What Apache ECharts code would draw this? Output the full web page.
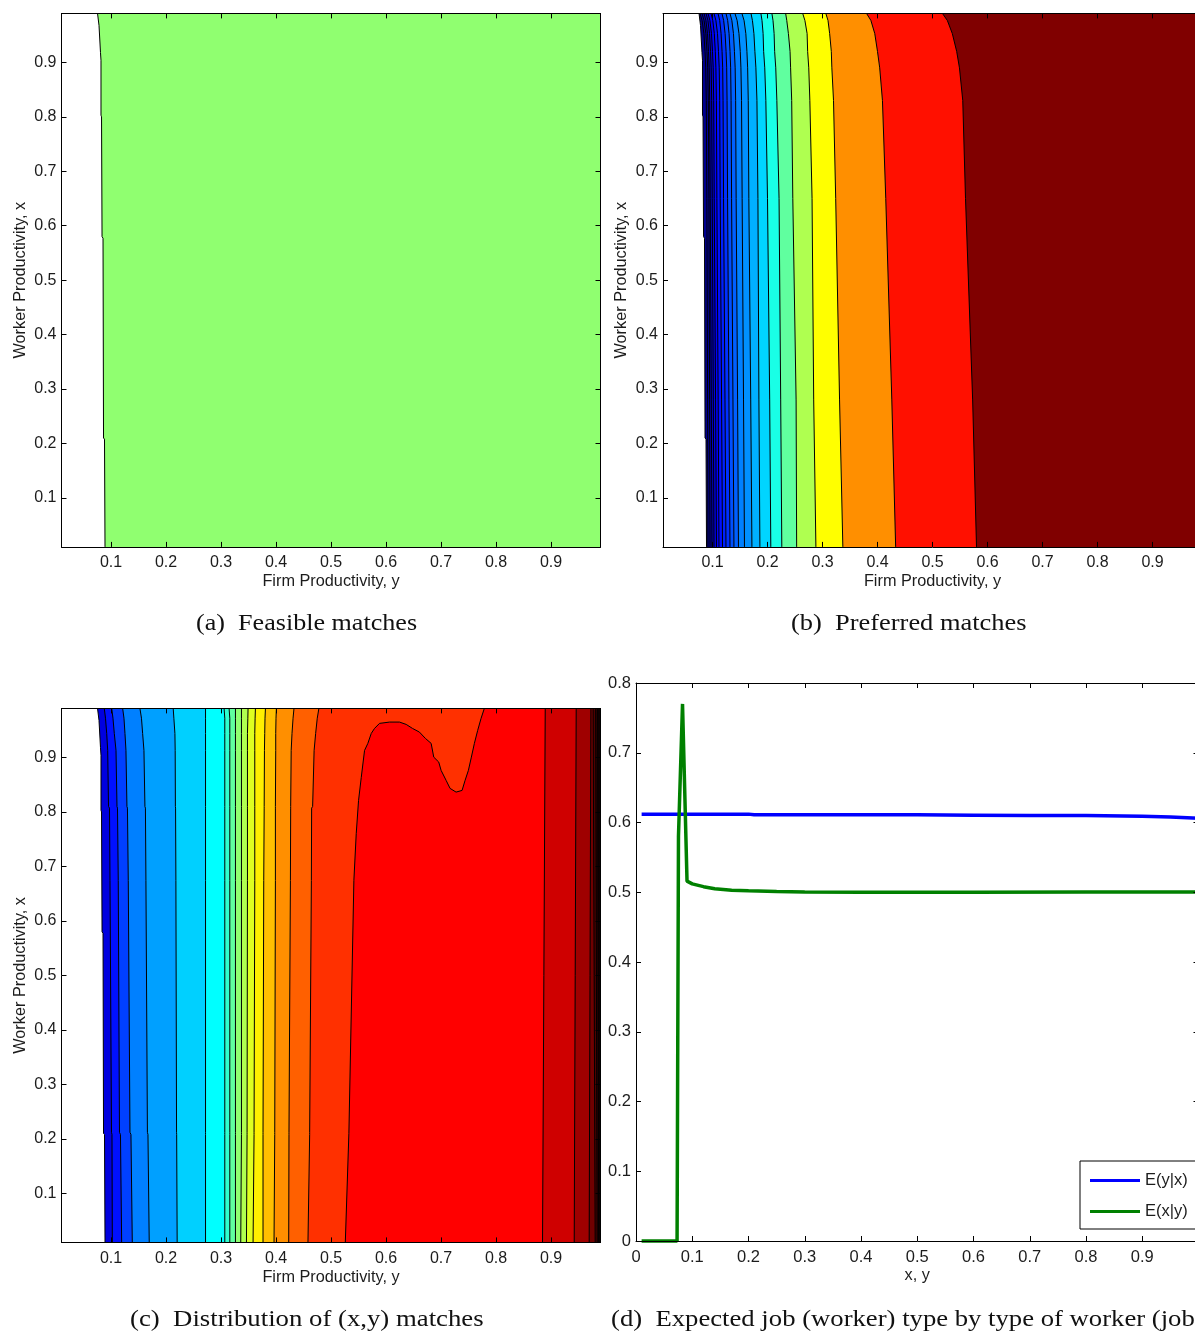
<!DOCTYPE html>
<html><head><meta charset="utf-8">
<style>html,body{margin:0;padding:0;background:#fff;overflow:hidden;width:1195px;height:1331px}#c{width:1260px;height:1331px}</style>
<script src="https://cdn.jsdelivr.net/npm/echarts@6/dist/echarts.min.js"></script>
</head><body><div id="c"></div>
<script>
// ---- tick labels ----
const TICKS_UNIT = [0.1,0.2,0.3,0.4,0.5,0.6,0.7,0.8,0.9];
const TICKS_D_X = [0,0.1,0.2,0.3,0.4,0.5,0.6,0.7,0.8,0.9,1];
const LABELS_D_X = [0,0.1,0.2,0.3,0.4,0.5,0.6,0.7,0.8,0.9];
const TICKS_D_Y = [0,0.1,0.2,0.3,0.4,0.5,0.6,0.7,0.8];

// ---- feasible-set boundary (shared by panels a, b, c) ----
const FEASIBLE_Y = [.99,.968,.918,.904,.803,.80,.58,.577,.21,.208,.01];
const FEASIBLE_X = [.0755,.0782,.0809,.0818,.0818,.0828,.0837,.0855,.0864,.0882,.0891];

// ---- panel b contours: x position of each level at the y knots ----
const B_Y = [.99,.977,.953,.92,.89,.83,.65,.28,.01];
const B_LEVELS = [
 [.0773,.0811,.0844,.0864,.0877,.0887,.0898,.0911,.0918],
 [.0809,.0847,.088,.09,.0913,.0924,.0935,.0947,.0955],
 [.0846,.088,.0909,.0927,.094,.0949,.0958,.0978,.0991],
 [.0882,.0917,.0946,.0964,.0976,.0985,.0995,.1015,.1027],
 [.0918,.0953,.0982,.1,.1013,.1022,.1031,.1056,.1073],
 [.0973,.1005,.1033,.1051,.1062,.1071,.108,.1103,.1118],
 [.1027,.1062,.1091,.1109,.1122,.1131,.114,.1165,.1182],
 [.11,.1131,.1156,.1174,.1185,.1192,.1201,.1227,.1245],
 [.1172,.1203,.1229,.1247,.1258,.1265,.1274,.1299,.1318],
 [.1245,.1276,.1301,.1319,.133,.1338,.1347,.1372,.139],
 [.1318,.1352,.1381,.1399,.1412,.1421,.143,.1456,.1472],
 [.1408,.1448,.1481,.1505,.1517,.1528,.1539,.1564,.1581],
 [.1535,.1574,.1606,.1626,.1639,.165,.1661,.1695,.1717],
 [.170,.1726,.1753,.1771,.1789,.1808,.1826,.1844,.1862],
 [.188,.190,.192,.193,.195,.197,.200,.204,.206],
 [.208,.210,.212,.213,.215,.217,.221,.224,.226],
 [.233,.235,.238,.241,.242,.244,.246,.252,.253],
 [.264,.268,.272,.273,.275,.277,.281,.284,.288],
 [.306,.310,.313,.316,.317,.320,.324,.331,.337],
 [.380,.388,.395,.400,.404,.409,.415,.426,.433],
 [.518,.527,.536,.544,.549,.555,.560,.573,.580]
];
const B_COLORS = ['#00008f','#00009f','#0000af','#0000c8','#0000df','#0000ff','#0010ff','#0020ff','#0030ff','#0050ff','#0060ff','#0080ff','#0090ff','#00b0ff','#00d5ff','#19ffe6','#60ff9f','#afff50','#ffff00','#ff8f00','#ff1000','#800000'];

// ---- panel c contours ----
const C_Y = [.99,.972,.944,.913,.81,.807,.674,.212,.208,.01];
const C_LEFT_LEVELS = [
 [.0878,.09,.0922,.094,.0955,.0973,.0982,.1009,.1018,.1024],
 [.1013,.1036,.106,.1091,.1109,.1118,.1132,.1154,.1172,.1194],
 [.1212,.1236,.1254,.1272,.129,.1299,.1314,.1345,.1363,.1387],
 [.1526,.1554,.1575,.1599,.1617,.1626,.1635,.1662,.1672,.1695],
 [.2131,.2143,.2162,.2167,.2171,.2174,.218,.2192,.2194,.2203],
 [.2719,.2719,.2719,.2719,.2719,.2719,.2719,.2719,.2719,.2719],
 [.3056,.3069,.3069,.3069,.3069,.3069,.3069,.3069,.3069,.3069],
 [.3147,.316,.316,.316,.316,.316,.316,.316,.316,.316],
 [.3263,.3263,.3263,.3263,.3263,.3263,.3263,.3263,.3263,.3263],
 [.3372,.3372,.3372,.3372,.3372,.3372,.3372,.3372,.3372,.3359],
 [.3492,.3488,.3481,.3481,.3481,.3481,.3481,.3474,.3474,.3463],
 [.3626,.362,.3614,.3614,.3614,.3614,.3614,.3601,.3601,.3583],
 [.3808,.38,.3795,.379,.3785,.3785,.3777,.3764,.3764,.3764],
 [.4007,.4,.3995,.3995,.3989,.3989,.3989,.3977,.3977,.3964],
 [.4327,.431,.4291,.4276,.4267,.4267,.4262,.4236,.4236,.4231],
 [.478,.475,.4721,.4693,.4666,.4648,.4643,.4612,.4612,.4581]
];
const C_RIDGE_X = [.7788,.7728,.7667,.7607,.7552,.7498,.7438,.7383,.7274,.7165,.7093,.7002,.6959,.6868,.6821,.6717,.6608,.6481,.6367,.6245,.6064,.5882,.5792,.5732,.567,.561,.555,.5501,.5459,.5416,.5325,.526];
const C_RIDGE_Y = [.99,.9716,.9496,.9258,.9006,.8762,.8579,.8395,.8364,.8432,.8579,.8762,.8915,.9006,.9258,.9349,.9465,.9533,.9606,.9649,.9649,.9625,.9533,.9441,.9258,.9129,.8634,.8212,.7606,.6744,.2101,.01];
const C_RIGHT_Y = [.99,.01];
const C_RIGHT_LEVELS = [[.8895,.8846],[.9458,.9422],[.9725,.9694],[.9766,.9803],[.9812,.9839],[.9848,.9866]];
const C_COLORS = ['#0000df','#0010ff','#0040ff','#0080ff','#00a0ff','#00d0ff','#00ffff','#30ffcf','#60ff9f','#90ff70','#b0ff50','#dfff20','#ffef00','#ffbf00','#ff8f00','#ff6000','#ff3000','#ff0000','#cf0000','#9f0000','#700000','#500000','#300000','#100000'];

const A_COLOR = '#90ff70';

// ---- panel d lines ----
const EYX_X = [.01,.2,.21,.5,.6,.7,.8,.9,.95,1];
const EYX_V = [.612,.612,.611,.611,.6105,.61,.61,.609,.608,.606];
const EXY_X = [.01,.073,.0755,.0827,.0907,.10,.12,.14,.17,.2,.25,.3,.4,.6,.8,1];
const EXY_V = [0,0,.58,.77,.516,.512,.508,.505,.503,.502,.501,.5005,.5,.5,.5005,.5005];

const CAPTIONS = ['(a)  Feasible matches','(b)  Preferred matches','(c)  Distribution of (x,y) matches','(d)  Expected job (worker) type by type of worker (job'];
const X_NAMES = ['Firm Productivity, y','Firm Productivity, y','Firm Productivity, y','x, y'];
const Y_NAME = 'Worker Productivity, x';

// ---- assemble ----
const zip = (xs, ys) => xs.map((x,i)=>[x,ys[i]]);
const feasible = zip(FEASIBLE_X, FEASIBLE_Y);
const contoursA = [feasible];
const contoursB = [feasible].concat(B_LEVELS.map(l=>zip(l,B_Y)));
const contoursC = [feasible].concat(C_LEFT_LEVELS.map(l=>zip(l,C_Y)), [zip(C_RIDGE_X,C_RIDGE_Y)], C_RIGHT_LEVELS.map(l=>zip(l,C_RIGHT_Y)));

function contourSeries(idx, contours, colors){
  return {
    type:'custom', xAxisIndex:idx*2, yAxisIndex:idx*2, coordinateSystem:'cartesian2d', z:2, clip:true, silent:true,
    data: contours.map((c,i)=>[c[0][0],c[0][1],i]),
    renderItem:(params,api)=>{
      const c = contours[params.dataIndex];
      const pts = c.map(p=>api.coord(p));
      const poly = pts.concat([api.coord([.99,.01]),api.coord([.99,.99])]);
      return {type:'group',children:[
        {type:'polygon',shape:{points:poly},style:{fill:colors[params.dataIndex],stroke:null}},
        {type:'polyline',shape:{points:pts},style:{fill:null,stroke:'#000',lineWidth:1}}
      ]};
    }
  };
}

const GEOM = [
 {left:61.5,top:13.4,width:539,height:533.5,min:.01,max:.99},
 {left:663,top:13.4,width:539,height:533.5,min:.01,max:.99},
 {left:61.5,top:708.4,width:539,height:534,min:.01,max:.99},
 {left:636,top:683,width:562.5,height:558,min:0,max:1}
];
const TXT = '#1c1c1c';
const FS = [16,16,16,16.5];
const xAxes=[], yAxes=[];
GEOM.forEach((g,i)=>{
  const isD = i===3;
  const xt = isD?TICKS_D_X:TICKS_UNIT, yt = isD?TICKS_D_Y:TICKS_UNIT;
  const line = {show:true,onZero:false,lineStyle:{color:'#000',width:1}};
  const base = (ticks)=>({type:'value',gridIndex:i,z:5,axisLine:line,splitLine:{show:false},
    axisTick:{show:true,inside:true,length:5,customValues:ticks,lineStyle:{color:'#000',width:1}}});
  xAxes.push(Object.assign(base(xt),{min:g.min,max:g.max,position:'bottom',
    name:X_NAMES[i],nameLocation:'middle',nameGap:27,nameTextStyle:{fontFamily:'Liberation Sans',fontSize:16.3,color:TXT},
    axisLabel:{show:true,margin:8,customValues:isD?LABELS_D_X:TICKS_UNIT,fontFamily:'Liberation Sans',fontSize:FS[i],color:TXT,formatter:v=>String(v)}}));
  xAxes.push(Object.assign(base(xt),{min:g.min,max:g.max,position:'top',axisLabel:{show:false}}));
  const yMax = isD?.8:.99, yMin = isD?0:.01;
  yAxes.push(Object.assign(base(yt),{min:yMin,max:yMax,position:'left',
    name:isD?'':Y_NAME,nameLocation:'middle',nameGap:33,nameTextStyle:{fontFamily:'Liberation Sans',fontSize:16.3,color:TXT},
    axisLabel:{show:true,margin:5,customValues:yt,fontFamily:'Liberation Sans',fontSize:FS[i],color:TXT,formatter:v=>String(v)}}));
  yAxes.push(Object.assign(base(yt),{min:yMin,max:yMax,position:'right',axisLabel:{show:false}}));
});

const capStyle = {fontFamily:'Liberation Serif',fontSize:23,fill:'#111'};
const CAP_POS = [[196,624],[791,624],[130,1320],[611,1320]];
const CAP_SCALE = [1.135,1.149,1.163,1.16];

const chart = echarts.init(document.getElementById('c'),null,{renderer:'canvas'});
chart.setOption({
  animation:false,
  backgroundColor:'#fff',
  grid:GEOM.map(g=>({left:g.left,top:g.top,width:g.width,height:g.height,containLabel:false,show:false})),
  xAxis:xAxes, yAxis:yAxes,
  legend:{show:true,left:1080,top:1161,orient:'vertical',icon:'rect',itemWidth:50,itemHeight:3,itemGap:14,padding:[11,10,9,10],
    backgroundColor:'#fff',borderColor:'#000',borderWidth:1,z:20,
    textStyle:{fontFamily:'Liberation Sans',fontSize:16.5,color:TXT,padding:[0,0,0,0]},
    data:['E(y|x)','E(x|y)']},
  graphic:CAPTIONS.map((t,i)=>({type:'text',x:CAP_POS[i][0],y:CAP_POS[i][1],scaleX:CAP_SCALE[i],
    style:Object.assign({text:t,verticalAlign:'middle'},capStyle)})),
  series:[
    contourSeries(0,contoursA,[A_COLOR]),
    contourSeries(1,contoursB,B_COLORS),
    contourSeries(2,contoursC,C_COLORS),
    {type:'line',name:'E(y|x)',xAxisIndex:6,yAxisIndex:6,data:zip(EYX_X,EYX_V),symbol:'none',clip:false,z:3,silent:true,lineStyle:{color:'#0000ff',width:3.5},itemStyle:{color:'#0000ff'}},
    {type:'line',name:'E(x|y)',xAxisIndex:6,yAxisIndex:6,data:zip(EXY_X,EXY_V),symbol:'none',clip:false,z:3,silent:true,lineStyle:{color:'#008000',width:3.5},itemStyle:{color:'#008000'}}
  ]
});
</script></body></html>
